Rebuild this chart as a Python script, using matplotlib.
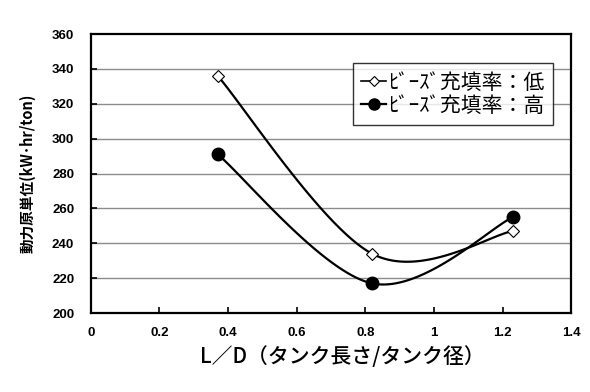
import matplotlib
matplotlib.use("Agg")
import matplotlib.pyplot as plt
import numpy as np

# datos
ld = [0.37, 0.82, 1.23]
bajo = [336, 234, 247]   # ﾋﾞｰｽﾞ充填率：低
alto = [291, 217, 255]   # ﾋﾞｰｽﾞ充填率：高

etiqueta_bajo = "ﾋﾞｰｽﾞ充填率：低"
etiqueta_alto = "ﾋﾞｰｽﾞ充填率：高"
xticks = [0, 0.2, 0.4, 0.6, 0.8, 1, 1.2, 1.4]
xticklabels = ["0", "0.2", "0.4", "0.6", "0.8", "1", "1.2", "1.4"]
yticks = [200, 220, 240, 260, 280, 300, 320, 340, 360]

FAM = ["Liberation Sans", "Noto Sans CJK JP", "DejaVu Sans"]
FAM_JP = ["Noto Sans CJK JP", "DejaVu Sans"]
plt.rcParams["font.family"] = FAM


def curva_suave(ax, xs, ys, n=60):
    """Curva suavizada tipo Excel (Bezier con puntos de control Catmull-Rom),
    calculada en coordenadas de pantalla."""
    pts = ax.transData.transform(np.column_stack([xs, ys]))
    ext = np.vstack([pts[0], pts, pts[-1]])
    salida = []
    for i in range(len(pts) - 1):
        p0, p1 = ext[i + 1], ext[i + 2]
        c1 = p0 + (ext[i + 2] - ext[i]) / 6.0
        c2 = p1 - (ext[i + 3] - ext[i + 1]) / 6.0
        t = np.linspace(0, 1, n)[:, None]
        seg = ((1 - t) ** 3) * p0 + 3 * ((1 - t) ** 2) * t * c1 \
            + 3 * (1 - t) * t ** 2 * c2 + t ** 3 * p1
        salida.append(seg)
    salida = np.vstack(salida)
    datos = ax.transData.inverted().transform(salida)
    return datos[:, 0], datos[:, 1]


fig = plt.figure(figsize=(5.9, 3.92), dpi=100)
ax = fig.add_axes([0.154, 0.2015, 0.814, 0.7115])
ax.set_xlim(0, 1.4)
ax.set_ylim(200, 360)

ax.set_yticks(yticks)
ax.set_xticks(xticks)
ax.set_xticklabels(xticklabels)
for y in yticks[1:-1]:
    ax.axhline(y, color="#8c8c8c", linewidth=1.0, zorder=1)

ax.tick_params(direction="in", length=4, width=1.2, labelsize=9.5)
ax.tick_params(axis="x", pad=10)
ax.tick_params(axis="y", pad=12)
for lab in ax.get_xticklabels() + ax.get_yticklabels():
    lab.set_fontweight("bold")
for s in ax.spines.values():
    s.set_linewidth(1.6)

# curvas suavizadas + marcadores
xb, yb = curva_suave(ax, ld, bajo)
ax.plot(xb, yb, color="black", linewidth=1.6, zorder=3)
ax.plot(ld, bajo, linestyle="none", marker="D", markersize=6,
        markerfacecolor="white", markeredgecolor="black",
        markeredgewidth=0.8, zorder=4)
xa, ya = curva_suave(ax, ld, alto)
ax.plot(xa, ya, color="black", linewidth=1.6, zorder=3)
ax.plot(ld, alto, linestyle="none", marker="o", markersize=9,
        color="black", zorder=4)

# leyenda
h1, = ax.plot([], [], color="black", linewidth=1.2, marker="D",
              markersize=5, markerfacecolor="white", markeredgecolor="black",
              markeredgewidth=0.8, label=etiqueta_bajo)
h2, = ax.plot([], [], color="black", linewidth=1.6, marker="o",
              markersize=8, label=etiqueta_alto)
leg = ax.legend(handles=[h1, h2], loc="upper right",
                bbox_to_anchor=(0.962, 0.895), prop={"family": FAM_JP, "size": 15},
                frameon=True, fancybox=False, edgecolor="black",
                handlelength=1.2, handletextpad=0.1, borderpad=0.4,
                labelspacing=0.05, borderaxespad=0.0)
leg.get_frame().set_linewidth(1.0)
leg.set_zorder(5)

ax.set_xlabel("L／D（タンク長さ/タンク径）", fontsize=15, fontweight="medium",
              family=FAM_JP)
ax.xaxis.set_label_coords(0.523, -0.12)
ax.set_ylabel("動力原単位(kW･hr/ton)", fontsize=10.5, fontweight="bold",
              family=FAM_JP, labelpad=12)

fig.savefig("out.png", dpi=100)
